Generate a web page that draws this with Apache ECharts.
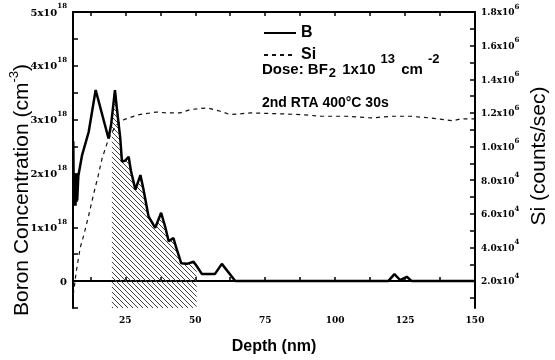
<!DOCTYPE html>
<html>
<head>
<meta charset="utf-8">
<script src="https://cdn.jsdelivr.net/npm/echarts@6/dist/echarts.min.js"></script>
<style>
  html, body { margin: 0; padding: 0; background: #fff; }
  #chart { width: 555px; height: 360px; }
</style>
</head>
<body>
<div id="chart"></div>
<script>
// depth (nm) / boron (x1e18 cm-3)
var boronDepth = [6.4, 6.6, 6.9, 7.2, 7.5, 7.8, 8.2, 9.5, 11.9, 14.4, 19.0, 19.9, 21.3, 22.0, 23.2, 23.8, 25.0, 26.2, 27.0, 28.6,
    30.4, 31.5, 33.3, 35.7, 37.8, 39.3, 40.5, 42.2, 43.2, 45.0, 47.0, 49.4, 50.5, 52.4, 57.0, 59.5, 64.3, 119.0, 121.2, 123.2,
    125.6, 127.4, 150];
var boronConc = [2.6, 1.4, 2.0, 1.4, 2.0, 1.5, 1.95, 2.33, 2.77, 3.55, 2.65, 2.9, 3.55, 3.2, 2.65, 2.22, 2.24, 2.31, 2.05, 1.7,
    1.97, 1.7, 1.2, 0.99, 1.27, 1.0, 0.74, 0.8, 0.62, 0.33, 0.32, 0.36, 0.28, 0.13, 0.13, 0.32, 0, 0, 0.13, 0.02,
    0.08, 0, 0];

// Si signal (x1e5 counts/sec)
var siDepth = [6.4, 7.5, 8.9, 10.1, 11.9, 13.7, 15.2, 16.7, 18.5, 20.0, 22.0, 24.5, 26.2, 30, 36, 40, 44.6, 48.2, 54.2, 59,
    62.5, 70, 80, 88, 95, 104, 113, 120, 127, 134, 139, 142, 145, 150];
var siCounts = [0.12, 0.26, 0.4, 0.47, 0.59, 0.72, 0.82, 0.93, 1.02, 1.08, 1.13, 1.16, 1.17, 1.19, 1.205, 1.2, 1.2, 1.22, 1.23, 1.21,
    1.19, 1.2, 1.195, 1.19, 1.18, 1.18, 1.17, 1.18, 1.18, 1.17, 1.16, 1.153, 1.165, 1.165];

// hatched band (implanted region)
var hatchStart = [20.2, 3.05];
var hatchEnd = 50.5;

var xLabels = [25, 50, 75, 100, 125, 150];
var xTicks = [12.5, 25, 37.5, 50, 62.5, 75, 87.5, 100, 112.5, 125, 137.5, 150];
var leftLabels = [0, 1, 2, 3, 4, 5];
var leftTicks = [-0.5, 0, 0.5, 1, 1.5, 2, 2.5, 3, 3.5, 4, 4.5, 5];
var rightValues = [0.2, 0.4, 0.6, 0.8, 1.0, 1.2, 1.4, 1.6, 1.8];
var rightMant = ['2.0', '4.0', '6.0', '8.0', '1.0', '1.2', '1.4', '1.6', '1.8'];
var rightExp = ['4', '4', '4', '4', '6', '6', '6', '6', '6'];
var rightTicks = [0.1, 0.2, 0.3, 0.4, 0.5, 0.6, 0.7, 0.8, 0.9, 1.0, 1.1, 1.2, 1.3, 1.4, 1.5, 1.6, 1.7, 1.8];

var boronData = boronDepth.map(function (d, i) { return [d, boronConc[i]]; });
var siData = siDepth.map(function (d, i) { return [d, siCounts[i]]; });
var hatchData = [hatchStart].concat(boronData.filter(function (p) {
    return p[0] > hatchStart[0] && p[0] <= hatchEnd;
}));

// diagonal hatch pattern
var pat = document.createElement('canvas');
pat.width = 5;
pat.height = 5;
var pc = pat.getContext('2d');
pc.strokeStyle = '#444';
pc.lineWidth = 1;
pc.beginPath();
pc.moveTo(0, 0);
pc.lineTo(5, 5);
pc.stroke();

var black = '#000';
var serif = '"DejaVu Serif", serif';
var sans = '"Liberation Sans", Arial, sans-serif';

var chart = echarts.init(document.getElementById('chart'));

var option = {
    animation: false,
    backgroundColor: '#fff',
    grid: { left: 73, right: 80, top: 12, bottom: 49 },
    legend: {
        data: ['B', 'Si'],
        orient: 'vertical',
        left: 263,
        top: 25,
        padding: 0,
        itemWidth: 32,
        itemHeight: 14,
        itemGap: 6,
        itemStyle: { opacity: 0 },
        textStyle: { fontFamily: sans, fontWeight: 'bold', fontSize: 16, color: black }
    },
    xAxis: [{
        type: 'value',
        min: 6.3,
        max: 150,
        position: 'bottom',
        name: 'Depth (nm)',
        nameLocation: 'middle',
        nameGap: 31,
        nameTextStyle: { fontFamily: sans, fontWeight: 'bold', fontSize: 16, color: black },
        axisLine: { lineStyle: { color: black, width: 2 } },
        axisTick: { inside: true, length: 4, customValues: xTicks, lineStyle: { color: black, width: 1.5 } },
        axisLabel: { customValues: xLabels, margin: 8, fontFamily: serif, fontWeight: 'bold', fontSize: 9, color: black },
        splitLine: { show: false }
    }, {
        type: 'value',
        min: 6.3,
        max: 150,
        position: 'top',
        axisLine: { lineStyle: { color: black, width: 2 } },
        axisTick: { inside: true, length: 4, customValues: xTicks, lineStyle: { color: black, width: 1.5 } },
        axisLabel: { show: false },
        splitLine: { show: false }
    }],
    yAxis: [{
        type: 'value',
        min: -0.5,
        max: 5,
        position: 'left',
        axisLine: { show: true, lineStyle: { color: black, width: 2 } },
        axisTick: { show: true, inside: true, length: 5, customValues: leftTicks, lineStyle: { color: black, width: 1.5 } },
        axisLabel: {
            customValues: leftLabels,
            margin: 6,
            formatter: function (v) {
                return v === 0 ? '{b|0}' : '{b|' + v + 'x10}{s|18}';
            },
            rich: {
                b: { fontFamily: serif, fontWeight: 'bold', fontSize: 10, color: black, verticalAlign: 'bottom', lineHeight: 12 },
                s: { fontFamily: serif, fontWeight: 'bold', fontSize: 7, color: black, verticalAlign: 'bottom', lineHeight: 8, padding: [0, 0, 8, 0] }
            }
        },
        splitLine: { show: false }
    }, {
        type: 'value',
        min: 0.04,
        max: 1.8,
        position: 'right',
        axisLine: { show: true, lineStyle: { color: black, width: 2 } },
        axisTick: { show: true, inside: true, length: 5, customValues: rightTicks, lineStyle: { color: black, width: 1.5 } },
        axisLabel: {
            customValues: rightValues,
            margin: 6,
            formatter: function (v) {
                var i = rightValues.findIndex(function (r) { return Math.abs(r - v) < 1e-6; });
                return '{b|' + rightMant[i] + 'x10}{s|' + rightExp[i] + '}';
            },
            rich: {
                b: { fontFamily: serif, fontWeight: 'bold', fontSize: 9, color: black, verticalAlign: 'bottom', lineHeight: 11 },
                s: { fontFamily: serif, fontWeight: 'bold', fontSize: 7, color: black, verticalAlign: 'bottom', lineHeight: 8, padding: [0, 0, 7, 0] }
            }
        },
        splitLine: { show: false }
    }],
    graphic: [{
        type: 'text',
        x: 21,
        y: 190,
        rotation: Math.PI / 2,
        style: {
            text: '{t|Boron Concentration (cm}{s|-3}{t|)}',
            align: 'center',
            verticalAlign: 'middle',
            rich: {
                t: { fontFamily: sans, fontSize: 21, color: black, verticalAlign: 'bottom', lineHeight: 24 },
                s: { fontFamily: sans, fontSize: 13, color: black, verticalAlign: 'bottom', lineHeight: 14, padding: [0, 0, 12, 0] }
            }
        }
    }, {
        type: 'text',
        x: 539,
        y: 156,
        rotation: Math.PI / 2,
        style: {
            text: 'Si (counts/sec)',
            align: 'center',
            verticalAlign: 'middle',
            fontFamily: sans,
            fontSize: 21,
            fill: black
        }
    }, {
        type: 'text',
        x: 262,
        y: 64,
        style: {
            text: '{t|Dose: BF}{u|2}{t| 1x10}{s|13}{t| cm}{s|-2}',
            rich: {
                t: { fontFamily: sans, fontWeight: 'bold', fontSize: 15, color: black, verticalAlign: 'bottom', lineHeight: 17, padding: [0, 0, 4, 0] },
                s: { fontFamily: sans, fontWeight: 'bold', fontSize: 13, color: black, verticalAlign: 'bottom', lineHeight: 13, padding: [0, 2, 15, 5] },
                u: { fontFamily: sans, fontWeight: 'bold', fontSize: 13, color: black, verticalAlign: 'bottom', lineHeight: 13, padding: [0, 2, 1, 1] }
            }
        }
    }, {
        type: 'text',
        x: 262,
        y: 103,
        style: {
            text: '2nd RTA 400°C 30s',
            verticalAlign: 'middle',
            fontFamily: sans,
            fontWeight: 'bold',
            fontSize: 14,
            fill: black
        }
    }],
    series: [{
        name: 'hatch',
        type: 'line',
        xAxisIndex: 0,
        yAxisIndex: 0,
        data: hatchData,
        symbol: 'none',
        silent: true,
        lineStyle: { width: 0, opacity: 0 },
        areaStyle: { origin: 'start', opacity: 1, color: { image: pat, repeat: 'repeat' } },
        z: 1
    }, {
        name: 'Si',
        type: 'line',
        xAxisIndex: 0,
        yAxisIndex: 1,
        data: siData,
        symbol: 'none',
        itemStyle: { color: black },
        lineStyle: { color: '#111', width: 1.2, type: [4, 4] },
        z: 2
    }, {
        name: 'B',
        type: 'line',
        xAxisIndex: 0,
        yAxisIndex: 0,
        data: boronData,
        symbol: 'none',
        itemStyle: { color: black },
        lineStyle: { color: black, width: 2.5 },
        z: 3
    }]
};

chart.setOption(option);
</script>
</body>
</html>
